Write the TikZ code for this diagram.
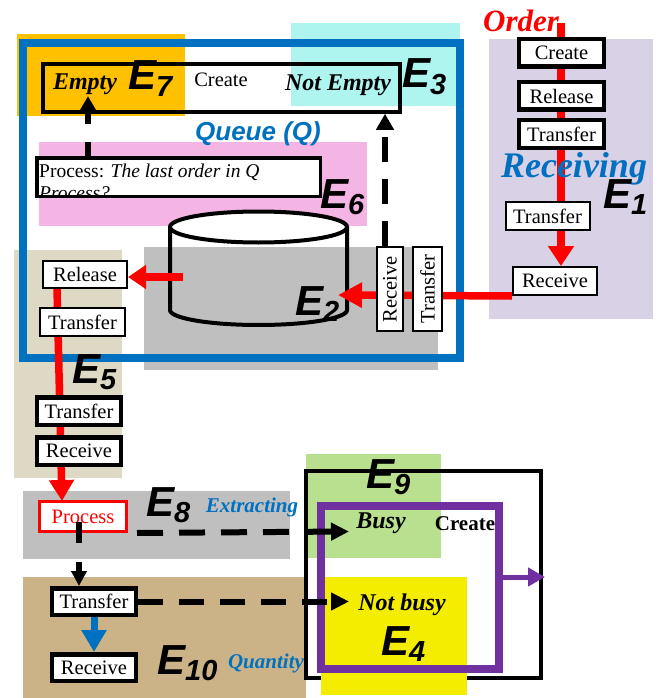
\documentclass[tikz,border=0pt]{standalone}
\usepackage{fontspec}
\setmainfont{Liberation Serif}
\newfontfamily\arialf{Liberation Sans}
\usetikzlibrary{arrows.meta}
\pgfdeclarelayer{bg}
\pgfdeclarelayer{lines}
\pgfsetlayers{bg,lines,main}
\definecolor{cOrange}{HTML}{FFC000}
\definecolor{cCyan}{RGB}{174,245,240}
\definecolor{cPink}{RGB}{244,181,228}
\definecolor{cGray}{RGB}{191,191,191}
\definecolor{cLav}{RGB}{217,209,230}
\definecolor{cBeige}{RGB}{221,217,197}
\definecolor{cTan}{RGB}{204,179,135}
\definecolor{cGreen}{RGB}{184,224,142}
\definecolor{cYellow}{RGB}{245,237,0}
\definecolor{cBlue}{HTML}{0070C0}
\definecolor{cPurple}{HTML}{7030A0}
\newcommand\myfs[1]{\fontsize{#1}{#1}\selectfont}
\newcommand\bifs[1]{\bfseries\itshape\fontsize{#1}{#1}\selectfont}
\newcommand\Elab[1]{{\arialf\bfseries\itshape\myfs{42}E\raisebox{-6.5pt}{\myfs{29}#1}}}
\tikzset{
  boxbase/.style={draw, fill=white, inner sep=0pt, font=\myfs{20.5}},
  boxA/.style={boxbase, line width=2pt, minimum width=84pt, minimum height=28pt},
  boxB/.style={boxbase, line width=4.5pt, minimum width=84pt, minimum height=27.5pt},
  redline/.style={line width=7.5pt, red},
  dline/.style={line width=6pt, dash pattern=on 25pt off 17pt},
  dtip/.style={-{Triangle[length=16pt,width=17pt]}},
  lbl/.style={inner sep=0pt, anchor=base},
  elbl/.style={inner sep=0pt, anchor=base west},
}
\begin{document}
\begin{tikzpicture}[x=1pt,y=-1pt]
\useasboundingbox (0,0) rectangle (659,698);

% ---------- background regions ----------
\begin{pgfonlayer}{bg}
\fill[cOrange] (17,34) rectangle (185,116);
\fill[cCyan] (291,23) rectangle (460,106);
\fill[cPink] (39,142) rectangle (367,226);
\fill[cLav] (489,39) rectangle (653,319);
\fill[cGray] (144,247) rectangle (438,370);
\fill[cBeige] (14,250) rectangle (122,478);
\fill[cGray] (23,491) rectangle (290,559);
\fill[cTan] (23,577) rectangle (306,698);
\fill[cGreen] (306,454) rectangle (441,558);
\node[draw=cBlue, line width=7.5pt, minimum width=437pt, minimum height=315pt, inner sep=0pt] (queue) at (241.5,200.5) {};
\node[draw, line width=3.5pt, minimum width=235pt, minimum height=207pt, inner sep=0pt] (e9box) at (423.5,574.5) {};
\fill[cYellow] (321,577) rectangle (467,695);
\node[draw=cPurple, line width=7.5pt, minimum width=178pt, minimum height=163pt, inner sep=0pt] (pbox) at (410,587.5) {};
\end{pgfonlayer}

% ---------- boxes ----------
\node[draw, line width=3.5pt, minimum width=357pt, minimum height=48pt, inner sep=0pt] (qbox) at (221.5,88) {};
\node[draw, line width=3.5pt, fill=white, minimum width=283.5pt, minimum height=38.5pt, inner sep=0pt] (pq) at (178.5,177) {};
\begin{scope}
\clip ([xshift=1.75pt,yshift=-1.75pt]pq.north west) rectangle ([xshift=-1.75pt,yshift=1.75pt]pq.south east);
\node[anchor=base west, inner sep=0pt, font=\myfs{19.5}] (pqt1) at (39,177) {Process: \textit{The last order in Q}};
\node[anchor=base west, inner sep=0pt, font=\myfs{19.5}\itshape] (pqt2) at (39,199) {Process?};
\end{scope}

\node[boxB, minimum width=85pt] (c1) at (561.5,53) {Create};
\node[boxB, minimum width=85pt] (r1) at (561.5,96) {Release};
\node[boxB, minimum width=85pt] (t1) at (561.5,134) {Transfer};
\node[boxA] (t2) at (547.5,216) {Transfer};
\node[boxA] (rc1) at (555,281) {Receive};

\node[boxA, rotate=90, minimum height=26pt] (vR) at (390,289) {Receive};
\node[boxA, rotate=90, minimum height=29pt] (vT) at (427.5,289) {Transfer};

\node[boxA, minimum height=27pt] (rel) at (85,274.5) {Release};
\node[boxA, minimum width=85pt] (tr5) at (82.5,322) {Transfer};
\node[boxB] (tr5b) at (79,411) {Transfer};
\node[boxB] (rc5) at (79,451) {Receive};

\node[draw=red, line width=3pt, fill=white, text=red, minimum width=87pt, minimum height=30pt, inner sep=0pt, font=\myfs{20.5}] (proc) at (83,516.5) {Process};

\node[boxB, minimum height=26.5pt] (tr10) at (94,601.5) {Transfer};
\node[boxB, minimum height=26.5pt] (rc10) at (94,667.5) {Receive};

% ---------- coordinates ----------
\coordinate (ordtop) at (561,23);
\coordinate (cylR) at (338,295);
\coordinate (cylL) at (183,277);
\coordinate (r5top) at (57,288);
\coordinate (r5bot) at (62,501);
\coordinate (d2b) at (88,157);
\coordinate (d2t) at (88,96);
\coordinate (busyA) at (349,531.5);
\coordinate (notbA) at (349,601.5);
\coordinate (d5t) at (79,522);
\coordinate (pT) at (545,577);

% ---------- cylinder and red flows ----------
\begin{pgfonlayer}{lines}
\draw[line width=4pt, line join=round] (170,227) -- (170,310)
  -- plot[domain=180:360, samples=60] ({258.5+88.5*cos(\x)},{310-15*sin(\x)}) -- (347,227);
\draw[line width=4pt, fill=white] (258.5,227) ellipse [x radius=88.5, y radius=15.5];
\draw[redline, -{Triangle[length=20pt,width=25pt]}] (ordtop) -- (ordtop |- rc1.north);
\draw[redline, -{Triangle[length=24pt,width=24pt]}] (rc1.south west) -- (cylR);
\draw[redline, -{Triangle[length=18pt,width=23pt]}] (cylL) -- (cylL -| rel.east);
\draw[redline, -{Triangle[length=21pt,width=24pt]}] (r5top) -- (r5bot);
\end{pgfonlayer}

% ---------- dashed connectors ----------
\draw[dline, dtip] ([xshift=-5pt]vR.east) -- ([xshift=-5pt]vR.east |- qbox.south);
\draw[dline, dash pattern=on 15pt off 18pt on 25pt off 17pt, dtip] (d2b) -- (d2t);
\draw[dline, dash pattern=on 26pt off 16pt, dash phase=33pt, -{Triangle[length=18pt,width=17pt]}] (proc.south east) -- (busyA);
\draw[dline, dash pattern=on 25pt off 16pt, -{Triangle[length=18pt,width=17pt]}] (tr10.east) -- (notbA);
\draw[dline, dash pattern=on 21pt off 19pt, -{Triangle[length=15pt,width=15pt]}] (d5t) -- (d5t |- tr10.north);
\draw[line width=7pt, cBlue, -{Triangle[length=22pt,width=24pt]}] (tr10.south) -- (rc10.north);
\draw[line width=5pt, cPurple, -{Triangle[length=17pt,width=18pt]}] ([yshift=10.5pt]pbox.east) -- (pT);

% ---------- labels ----------
\node[lbl, font=\bifs{24}] (emp) at (85,90) {Empty};
\node[lbl, font=\myfs{20.5}] (cr7) at (221,87) {Create};
\node[lbl, font=\bifs{24}] (nemp) at (338,91) {Not Empty};
\node[lbl, font=\arialf\bifs{26}, text=cBlue] (qlab) at (258,140) {Queue (Q)};
\node[lbl, font=\bifs{31}, text=red] (ord) at (521,32) {Order};
\node[lbl, font=\bifs{36}, text=cBlue] (recv) at (574,177) {Receiving};
\node[lbl, font=\bifs{21}, text=cBlue] (extr) at (252,512) {Extracting};
\node[lbl, font=\bifs{21}, text=cBlue] (quan) at (266,668) {Quantity};
\node[lbl, font=\bifs{24}] (busy) at (381,528) {Busy};
\node[lbl, font=\bfseries\myfs{21}] (cr9) at (465,530) {Create};
\node[lbl, font=\bifs{24}] (nbusy) at (402,610) {Not busy};

\node[elbl] (E7) at (128,90) {\Elab{7}};
\node[elbl] (E3) at (402,88) {\Elab{3}};
\node[elbl] (E6) at (320,208) {\Elab{6}};
\node[elbl] (E2) at (295,315) {\Elab{2}};
\node[elbl] (E1) at (603,208) {\Elab{1}};
\node[elbl] (E5) at (72,383) {\Elab{5}};
\node[elbl] (E8) at (146,516) {\Elab{8}};
\node[elbl] (E10) at (157,674) {\Elab{10}};
\node[elbl] (E9) at (366,488) {\Elab{9}};
\node[elbl] (E4) at (381,655) {\Elab{4}};
\end{tikzpicture}
\end{document}
